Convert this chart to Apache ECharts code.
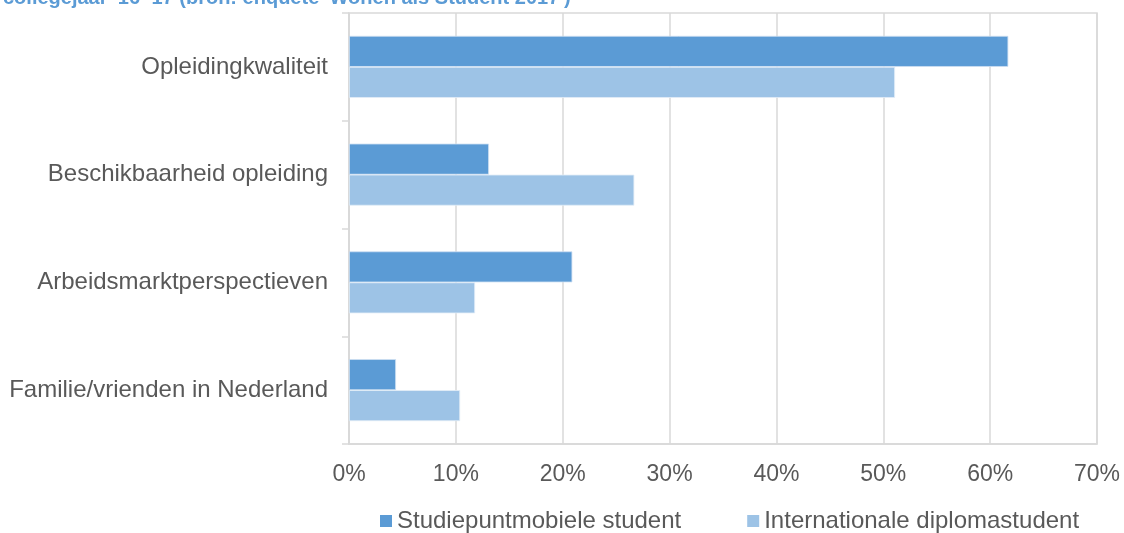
<!DOCTYPE html>
<html>
<head>
<meta charset="utf-8">
<script src="https://cdn.jsdelivr.net/npm/echarts@6/dist/echarts.min.js"></script>
<style>
  html, body { margin: 0; padding: 0; background: #fff; }
  #chart { width: 1124px; height: 533px; }
</style>
</head>
<body>
<div id="chart"></div>
<script>
  // categorieën (van boven naar beneden)
  var categories = ['Opleidingkwaliteit', 'Beschikbaarheid opleiding', 'Arbeidsmarktperspectieven', 'Familie/vrienden in Nederland'];
  var seriesNames = ['Studiepuntmobiele student', 'Internationale diplomastudent'];
  // percentages
  var mobielValues = [61.7, 13.1, 20.9, 4.4];
  var diplomaValues = [51.1, 26.7, 11.8, 10.4];
  var tickValues = [0, 10, 20, 30, 40, 50, 60, 70];

  var titleText = "collegejaar '16-'17 (bron: enquête 'Wonen als Student 2017')";
  var textColor = '#595959';
  var gridColor = '#d9d9d9';

  var chart = echarts.init(document.getElementById('chart'));

  var option = {
    animation: false,
    textStyle: { fontFamily: 'Liberation Sans, Arial, sans-serif' },
    // titel valt grotendeels buiten beeld (afgesneden in origineel)
    title: {
      text: titleText,
      left: 3,
      top: -12,
      padding: 0,
      textStyle: { color: '#5b9bd5', fontSize: 20, fontWeight: 'bold' }
    },
    grid: {
      left: 349,
      right: 27,
      top: 13,
      bottom: 89,
      show: true,
      borderColor: gridColor,
      borderWidth: 1.5,
      containLabel: false
    },
    legend: {
      top: 509,
      left: 380,
      padding: 0,
      itemWidth: 12,
      itemHeight: 12,
      itemGap: 66,
      icon: 'rect',
      itemStyle: { borderWidth: 0 },
      textStyle: { color: textColor, fontSize: 24 },
      data: seriesNames
    },
    xAxis: {
      type: 'value',
      min: tickValues[0],
      max: tickValues[tickValues.length - 1],
      interval: 10,
      axisLine: { show: true, lineStyle: { color: gridColor, width: 1.5 } },
      axisTick: { show: false },
      splitLine: { lineStyle: { color: gridColor, width: 1.5 } },
      axisLabel: {
        color: textColor,
        fontSize: 23,
        margin: 19,
        formatter: '{value}%'
      }
    },
    yAxis: {
      type: 'category',
      inverse: true,
      data: categories,
      axisLine: { show: true, lineStyle: { color: gridColor, width: 1.5 } },
      axisTick: { show: true, length: 7, lineStyle: { color: gridColor, width: 1.5 } },
      axisLabel: { color: textColor, fontSize: 24, margin: 21 }
    },
    series: [
      {
        name: seriesNames[0],
        type: 'bar',
        barWidth: 31,
        barGap: '0%',
        itemStyle: { color: '#5b9bd5', borderColor: '#cfe0f2', borderWidth: 0.8 },
        data: mobielValues
      },
      {
        name: seriesNames[1],
        type: 'bar',
        barWidth: 31,
        barGap: '0%',
        itemStyle: { color: '#9dc3e6', borderColor: '#e3eef8', borderWidth: 0.8 },
        data: diplomaValues
      }
    ]
  };

  chart.setOption(option);
</script>
</body>
</html>
